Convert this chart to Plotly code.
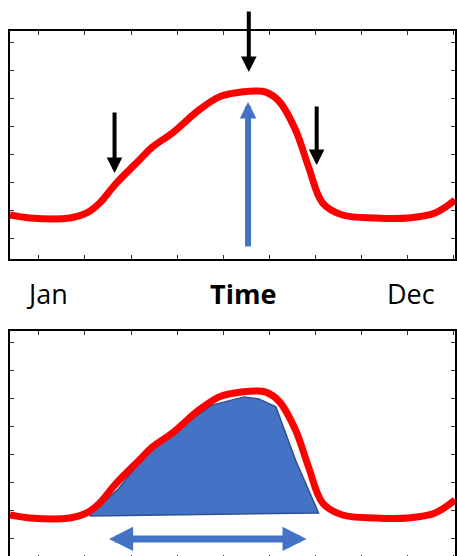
import plotly.graph_objects as go

# ---- data (months on x, relative value on y) ----
curve_x = [0.00, 0.54, 1.61, 2.07, 2.42, 2.87, 3.49, 3.84, 4.38, 5.10, 5.64, 5.91,
           6.63, 6.90, 7.25, 7.70, 8.05, 8.43, 8.97, 9.85, 10.74, 11.46, 12.00]
curve_y = [1.93, 1.80, 1.80, 2.02, 2.46, 3.33, 4.34, 4.91, 5.53, 6.54, 7.11, 7.24,
           7.37, 7.32, 6.93, 5.66, 4.04, 2.46, 1.93, 1.80, 1.80, 2.02, 2.59]

area_x = [2.15, 2.90, 3.68, 4.21, 5.45, 5.91, 6.31, 6.71, 7.17, 7.70, 8.32, 2.15]
area_y = [1.93, 3.03, 4.65, 5.35, 6.75, 6.93, 7.11, 7.02, 6.67, 4.34, 2.02, 1.89]

black_arrow_x = [2.82, 6.44, 8.27]
black_arrow_tail = [6.49, 10.92, 6.75]
black_arrow_tip = [3.77, 8.20, 4.12]

blue_arrow_x = 6.42
blue_arrow_tail = 0.48
blue_arrow_tip = 6.89

span_start = 2.63
span_end = 8.00
span_y = 0.88

labels = ["Jan", "Time", "Dec"]

RED = "#FF0000"
BLUE = "#4472C4"
DARKBLUE = "#2F528F"

fig = go.Figure()

# top panel curve
fig.add_trace(go.Scatter(x=curve_x, y=curve_y, mode="lines",
                         line=dict(color=RED, width=7, shape="spline", smoothing=1.0),
                         xaxis="x", yaxis="y", showlegend=False, hoverinfo="skip"))
# bottom panel area + curve
fig.add_trace(go.Scatter(x=area_x, y=area_y, mode="lines", fill="toself",
                         fillcolor=BLUE, line=dict(color=DARKBLUE, width=1.5),
                         xaxis="x2", yaxis="y2", showlegend=False, hoverinfo="skip"))
fig.add_trace(go.Scatter(x=curve_x, y=curve_y, mode="lines",
                         line=dict(color=RED, width=7, shape="spline", smoothing=1.0),
                         xaxis="x2", yaxis="y2", showlegend=False, hoverinfo="skip"))

axis_common = dict(showline=True, linecolor="black", linewidth=2, mirror="allticks",
                   ticks="inside", ticklen=4, tickwidth=1, tickcolor="#333333",
                   showticklabels=False, showgrid=False, zeroline=False, fixedrange=True)

W, H = 457, 559  # page is 556 tall; bottom 3px of the lower frame fall outside, as in the reference
xdom = [10 / W, 1.0]
x_tick0 = 29 * 12 / 447
x_dtick = 46.3 * 12 / 447
y_tick0 = 21 / 22.8
y_dtick = 28 / 22.8

fig.update_layout(
    width=W, height=H, margin=dict(l=0, r=0, t=0, b=0),
    paper_bgcolor="white", plot_bgcolor="white",
    xaxis=dict(domain=xdom, range=[0, 12], anchor="y", tick0=x_tick0, dtick=x_dtick, **axis_common),
    yaxis=dict(domain=[(H - 259) / H, (H - 31) / H], range=[0, 10], anchor="x",
               tick0=y_tick0, dtick=y_dtick, **axis_common),
    xaxis2=dict(domain=xdom, range=[0, 12], anchor="y2", tick0=x_tick0, dtick=x_dtick, **axis_common),
    yaxis2=dict(domain=[0, (H - 331) / H], range=[0, 10], anchor="x2",
                tick0=y_tick0, dtick=y_dtick, **axis_common),
)

ann = []
for xv, t0, t1 in zip(black_arrow_x, black_arrow_tail, black_arrow_tip):
    ann.append(dict(x=xv, y=t1, ax=xv, ay=t0, xref="x", yref="y", axref="x", ayref="y",
                    text="", showarrow=True, arrowhead=2, arrowwidth=4, arrowsize=0.78,
                    arrowcolor="black"))
ann.append(dict(x=blue_arrow_x, y=blue_arrow_tip, ax=blue_arrow_x, ay=blue_arrow_tail,
                xref="x", yref="y", axref="x", ayref="y", text="", showarrow=True,
                arrowhead=2, arrowwidth=6, arrowsize=0.55, arrowcolor=BLUE))
ann.append(dict(x=span_end, y=span_y, ax=span_start, ay=span_y,
                xref="x2", yref="y2", axref="x2", ayref="y2", text="", showarrow=True,
                arrowside="end+start", arrowhead=2, startarrowhead=2,
                arrowwidth=7, arrowsize=0.69, startarrowsize=0.69,
                arrowcolor=BLUE))

label_x = [47 / W, 244 / W, 412.5 / W]
for i, (lx, lab) in enumerate(zip(label_x, labels)):
    txt = "<b>%s</b>" % lab if i == 1 else lab
    ann.append(dict(x=lx, y=(H - 293) / H, xref="paper", yref="paper", text=txt,
                    showarrow=False, xanchor="center", yanchor="middle",
                    font=dict(family="Open Sans", size=27, color="black")))

fig.update_layout(annotations=ann)

fig.write_html("out.html", config={"displayModeBar": False, "staticPlot": True},
               post_script="document.body.style.margin='0';document.body.style.overflow='hidden';")
